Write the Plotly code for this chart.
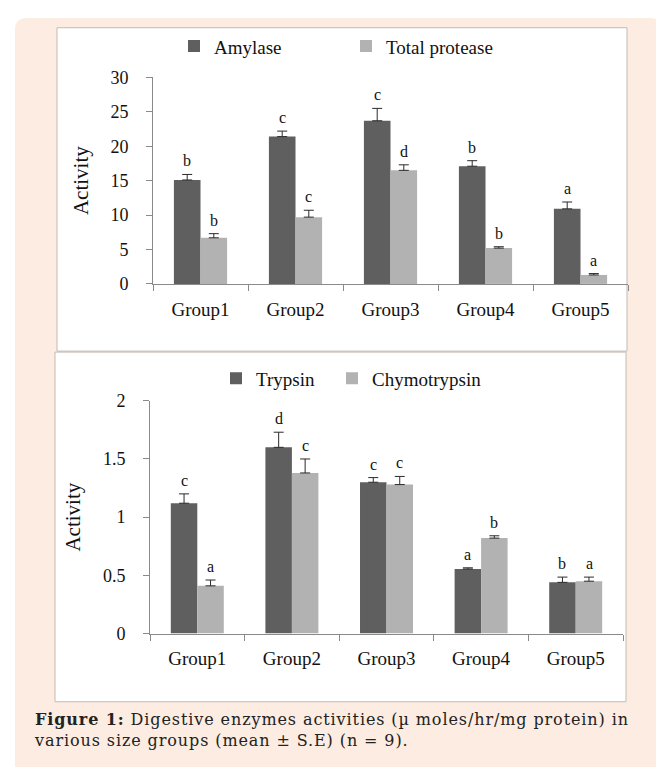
import plotly.graph_objects as go

W, H = 664, 769
PAGE_PAD = 8  # 浏览器 body 默认边距

# 数据
groups = ["Group1", "Group2", "Group3", "Group4", "Group5"]

amylase = [15.1, 21.4, 23.7, 17.1, 10.9]
amylase_se = [0.8, 0.8, 1.8, 0.8, 1.0]
amylase_sig = ["b", "c", "c", "b", "a"]

protease = [6.7, 9.7, 16.5, 5.2, 1.3]
protease_se = [0.6, 1.0, 0.8, 0.2, 0.2]
protease_sig = ["b", "c", "d", "b", "a"]

trypsin = [1.12, 1.60, 1.30, 0.555, 0.44]
trypsin_se = [0.08, 0.13, 0.04, 0.01, 0.045]
trypsin_sig = ["c", "d", "c", "a", "b"]

chymo = [0.41, 1.38, 1.28, 0.82, 0.45]
chymo_se = [0.05, 0.12, 0.07, 0.02, 0.035]
chymo_sig = ["a", "c", "c", "b", "a"]

DARK = "#5f5f5f"
LIGHT = "#b2b2b2"
AXIS = "#8a8a8a"
SERIF = "Liberation Serif"
PEACH = "#fcece1"


# 页面像素 -> paper 坐标
def px(x):
    return (x - PAGE_PAD) / W


def py(y):
    return 1 - (y - PAGE_PAD) / H


fig = go.Figure()


def add_bars(name, vals, se, color, xa, ya, legend):
    fig.add_trace(go.Bar(
        x=groups, y=vals, name=name,
        marker=dict(color=color, line=dict(width=0)),
        error_y=dict(type="data", symmetric=False, array=se,
                     arrayminus=[0] * len(se), color="#2a2a2a",
                     thickness=1, width=5),
        xaxis=xa, yaxis=ya, legend=legend,
    ))


add_bars("Amylase", amylase, amylase_se, DARK, "x", "y", "legend")
add_bars("Total protease", protease, protease_se, LIGHT, "x", "y", "legend2")
add_bars("Trypsin", trypsin, trypsin_se, DARK, "x2", "y2", "legend3")
add_bars("Chymotrypsin", chymo, chymo_se, LIGHT, "x2", "y2", "legend4")

# 显著性字母
annotations = []


def add_letters(vals, se, sig, xref, yref, shift):
    for g, v, e, s in zip(groups, vals, se, sig):
        annotations.append(dict(
            x=g, y=v + e, xref=xref, yref=yref, text=s, showarrow=False,
            xshift=shift, yshift=3, yanchor="bottom",
            font=dict(family=SERIF, size=16, color="#111"),
        ))


add_letters(amylase, amylase_se, amylase_sig, "x", "y", -13.3)
add_letters(protease, protease_se, protease_sig, "x", "y", 13.3)
add_letters(trypsin, trypsin_se, trypsin_sig, "x2", "y2", -13.3)
add_letters(chymo, chymo_se, chymo_sig, "x2", "y2", 13.3)

# 图注 (两行, 一个文本)
caption = ('<span style="letter-spacing:0.9px"><b>Figure 1:</b> Digestive enzymes activities '
           '(µ moles/hr/mg protein) in<br>various size groups (mean ± S.E) (n = 9).</span>')
annotations.append(dict(
    x=px(32), y=py(739), xref="paper", yref="paper", xanchor="left",
    yanchor="middle", align="left", showarrow=False, text=caption,
    font=dict(family="DejaVu Serif", size=16, color="#222"),
))

# 背景与面板
shapes = [
    dict(type="path", xref="paper", yref="paper", layer="below",
         path=(f"M {px(15)},{py(777)} L {px(15)},{py(20)} "
               f"Q {px(15)},{py(8)} {px(27)},{py(8)} L {px(650)},{py(8)} "
               f"Q {px(662)},{py(8)} {px(662)},{py(20)} L {px(662)},{py(777)} Z"),
         fillcolor=PEACH, line=dict(width=0)),
    dict(type="rect", xref="paper", yref="paper", layer="below",
         x0=px(57), x1=px(627), y0=py(350), y1=py(18),
         fillcolor="white", line=dict(color="#c4bbb4", width=1)),
    dict(type="rect", xref="paper", yref="paper", layer="below",
         x0=px(55), x1=px(626), y0=py(710), y1=py(351),
         fillcolor="white", line=dict(color="#c4bbb4", width=1)),
]

xcommon = dict(showline=True, linecolor=AXIS, linewidth=1, ticks="outside",
               tickson="boundaries", ticklen=6, tickcolor=AXIS, showgrid=False,
               tickfont=dict(family=SERIF, size=19, color="#111"),
               ticklabelstandoff=8, fixedrange=True)
ycommon = dict(showline=True, linecolor=AXIS, linewidth=1, ticks="outside",
               ticklen=6, tickcolor=AXIS, showgrid=False, zeroline=False,
               tickfont=dict(family=SERIF, size=18, color="#111"),
               ticklabelstandoff=14,
               title=dict(text="Activity", font=dict(family=SERIF, size=21, color="#111"),
                          standoff=16))

legend_font = dict(family=SERIF, size=19, color="#111")


def one_legend(x_page, y_page):
    # 每个图例一项, 色块位于 x_page + 14
    return dict(orientation="h", x=px(x_page), y=py(y_page), xanchor="left",
                yanchor="middle", itemwidth=30, bgcolor="rgba(0,0,0,0)",
                font=legend_font)


fig.update_layout(
    width=W, height=H, autosize=False,
    margin=dict(l=0, r=0, t=0, b=0),
    paper_bgcolor="white", plot_bgcolor="rgba(0,0,0,0)",
    barmode="group", bargap=0.44, bargroupgap=0,
    xaxis=dict(domain=[px(153), px(628)], anchor="y", **xcommon),
    yaxis=dict(domain=[py(281), py(69)], anchor="x", range=[0, 30], dtick=5, **ycommon),
    xaxis2=dict(domain=[px(150), px(623)], anchor="y2", **xcommon),
    yaxis2=dict(domain=[py(640), py(401)], anchor="x2", range=[0, 2], dtick=0.5, **ycommon),
    legend=one_legend(174, 37),
    legend2=one_legend(346, 37),
    legend3=one_legend(216, 378),
    legend4=one_legend(332, 378),
    annotations=annotations,
    shapes=shapes,
    showlegend=True,
)

fig.write_html("out.html")
